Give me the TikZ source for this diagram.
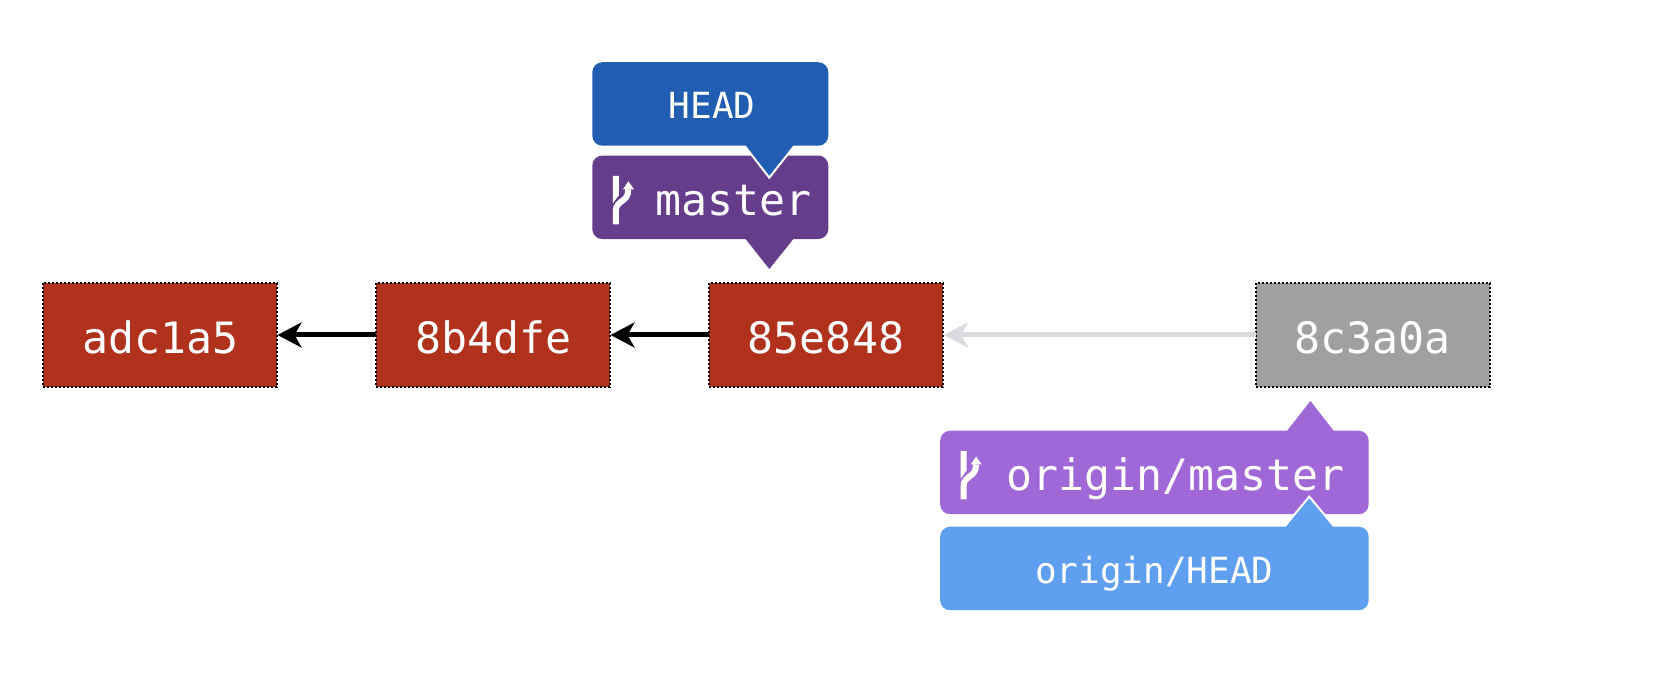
\documentclass[tikz,border=0pt]{standalone}
\usepackage{fontspec}
\setmonofont{DejaVu Sans Mono}
\usetikzlibrary{arrows.meta}
\definecolor{commitred}{HTML}{B0321C}
\definecolor{commitgray}{HTML}{9FA09F}
\definecolor{headblue}{HTML}{215EB2}
\definecolor{branchpurple}{HTML}{663D8B}
\definecolor{originpurple}{HTML}{A068D7}
\definecolor{originblue}{HTML}{5E9FF0}
\definecolor{fadedline}{HTML}{DADBDF}
\tikzset{
  commitbox/.style={fill=#1,draw=black,line width=1pt,dash pattern=on 1pt off 1pt,
    minimum width=117pt,minimum height=52pt,inner sep=0pt,outer sep=0pt,
    text=white,font=\ttfamily\fontsize{21.6}{24}\selectfont,text height=18.5pt,text depth=0pt},
  tagbox/.style={fill=#1,rounded corners=5pt,minimum height=41.75pt,inner sep=0pt,outer sep=0pt,
    text=white,text height=15pt,text depth=0pt},
  bigtag/.style={font=\ttfamily\fontsize{21.6}{24}\selectfont,text height=18pt},
  smalltag/.style={font=\ttfamily\fontsize{18}{20}\selectfont},
  linkarrow/.style={-{Stealth[length=12pt,width=12.5pt,inset=3.5pt]},line width=2.5pt,draw=#1,shorten >=0.5pt},
  branchicon/.pic={
    \fill[white] (20.5,21.3) -- (26.5,21.3) -- (26.5,2) -- (20.5,-6) -- cycle;
    \draw[white,line width=3pt] (23.5,-27) -- (23.5,-14) .. controls (23.5,-2) and (36,-6) .. (36,8);
    \fill[white] (36,16) -- (41.7,8) -- (30.7,8) -- cycle;
  }
}
\begin{document}
\begin{tikzpicture}[x=0.5pt,y=0.5pt]
\useasboundingbox (0,0) rectangle (1662,-678);
% commits
\node[commitbox=commitred] (c1) at (159.5,-335) {\hspace*{1pt}adc1a5};
\node[commitbox=commitred] (c2) at (492.5,-335) {\hspace*{1pt}8b4dfe};
\node[commitbox=commitred] (c3) at (826,-335) {85e848};
\node[commitbox=commitgray] (c4) at (1372.5,-335) {8c3a0a};
\draw[linkarrow=black] (c2) -- (c1);
\draw[linkarrow=black] (c3) -- (c2);
\draw[linkarrow=fadedline] (c4) -- (c3);
% master tag
\node[tagbox=branchpurple,bigtag,minimum width=118pt] (master) at (710.3,-197.3) {\hspace*{23pt}master};
\fill[branchpurple] (744,-237) -- (769.3,-269) -- (795,-237) -- cycle;
\path (master.west) pic {branchicon};
% HEAD tag
\fill[headblue] (744,-144) -- (769.3,-177.7) -- (795,-144) -- cycle;
\draw[white,line width=1pt] (744.5,-145.7) -- (769.3,-177.7) -- (794.5,-145.7);
\node[tagbox=headblue,smalltag,minimum width=118pt] (head) at (710.3,-104) {\hspace*{2pt}HEAD};
% origin/master tag
\fill[originpurple] (1285.4,-433) -- (1310.4,-401) -- (1335.4,-433) -- cycle;
\node[tagbox=originpurple,bigtag,minimum width=214.3pt] (omaster) at (1154.4,-472.5) {\hspace*{20.9pt}origin/master};
\path (omaster.west) pic {branchicon};
% origin/HEAD tag
\fill[originblue] (1284,-529) -- (1309.3,-496.7) -- (1334.7,-529) -- cycle;
\draw[white,line width=1pt] (1284,-527) -- (1309.3,-496.7) -- (1334.7,-527);
\node[tagbox=originblue,smalltag,minimum width=214.3pt] (ohead) at (1154.4,-568.5) {origin/HEAD};
\end{tikzpicture}
\end{document}
